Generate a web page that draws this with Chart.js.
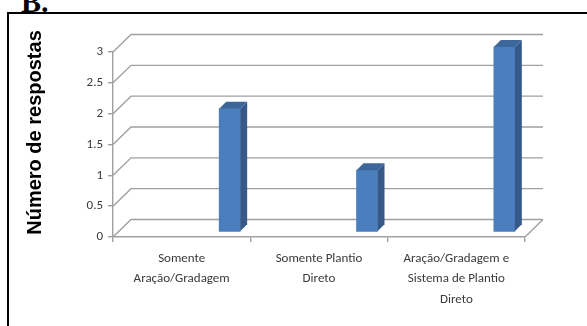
<!DOCTYPE html>
<html lang="pt">
<head>
<meta charset="utf-8">
<script src="https://cdn.jsdelivr.net/npm/chart.js@4"></script>
<style>
    html, body { margin: 0; padding: 0; background: #fff; overflow: hidden; }
    #wrap { position: relative; width: 587px; height: 326px; overflow: hidden; }
    #panelLabel { position: absolute; left: 21px; top: -13px; font: bold 30px/30px "Liberation Serif", "Times New Roman", serif; color: #000; }
    #frame { position: absolute; left: 7px; top: 12px; width: 640px; height: 400px; border: 2px solid #000; }
    #respostasChart { position: absolute; left: 0; top: 0; }
</style>
</head>
<body>
<div id="wrap">
    <div id="panelLabel">B.</div>
    <div id="frame"></div>
    <canvas id="respostasChart" width="587" height="326"></canvas>
</div>
<script>
const categories = [
    ['Somente', 'Aração/Gradagem'],
    ['Somente Plantio', 'Direto'],
    ['Aração/Gradagem e', 'Sistema de Plantio', 'Direto']
];
const respostas = [2, 1, 3];
const yTicks = [0, 0.5, 1, 1.5, 2, 2.5, 3];

const GRID_COLOR = '#a0a0a0';
const TEXT_COLOR = '#3a3a3a';
const LABEL_FONT = '"Liberation Sans Narrow", Carlito, "Liberation Sans", sans-serif';
const BAR_FRONT = '#4b7ebd';
const BAR_SIDE = '#36598a';
const BAR_TOP = '#3d669b';

//  depth of the box (back wall offset) and of each bar
const DEPTH_X = 18;
const DEPTH_Y = 17.5;
const BAR_DEPTH = 7;
//  bars stand inside the box, towards the back right of each slot
const BAR_SHIFT_X = 48;
const BAR_SHIFT_Y = -5;

const respostasChartElement = document.getElementById('respostasChart');

//  Back wall, floor and the 3D faces of the bars
const boxPlugin = {
    id: 'box3d',
    beforeDatasetsDraw(chart) {
        const { ctx, chartArea, scales: { y } } = chart;
        ctx.save();
        ctx.strokeStyle = GRID_COLOR;
        ctx.lineWidth = 1.4;
        yTicks.forEach(v => {
            const py = y.getPixelForValue(v);
            ctx.beginPath();
            ctx.moveTo(chartArea.left, py);
            ctx.lineTo(chartArea.left + DEPTH_X, py - DEPTH_Y);
            ctx.lineTo(chartArea.right + DEPTH_X, py - DEPTH_Y);
            ctx.stroke();
        });
        const floor = y.getPixelForValue(0);
        ctx.beginPath();
        ctx.moveTo(chartArea.right, floor);
        ctx.lineTo(chartArea.right + DEPTH_X, floor - DEPTH_Y);
        ctx.stroke();
        ctx.restore();

        ctx.save();
        ctx.translate(BAR_SHIFT_X, BAR_SHIFT_Y);
    },
    afterDatasetsDraw(chart) {
        const { ctx } = chart;
        chart.getDatasetMeta(0).data.forEach(bar => {
            const { x, y, base, width } = bar.getProps(['x', 'y', 'base', 'width'], true);
            const left = x - width / 2;
            const right = x + width / 2;

            //  side face
            ctx.fillStyle = BAR_SIDE;
            ctx.beginPath();
            ctx.moveTo(right, y);
            ctx.lineTo(right + BAR_DEPTH, y - BAR_DEPTH);
            ctx.lineTo(right + BAR_DEPTH, base - BAR_DEPTH);
            ctx.lineTo(right, base);
            ctx.closePath();
            ctx.fill();

            //  top face
            ctx.fillStyle = BAR_TOP;
            ctx.beginPath();
            ctx.moveTo(left, y);
            ctx.lineTo(left + BAR_DEPTH, y - BAR_DEPTH);
            ctx.lineTo(right + BAR_DEPTH, y - BAR_DEPTH);
            ctx.lineTo(right, y);
            ctx.closePath();
            ctx.fill();
        });
        ctx.restore();
    },
    afterDraw(chart) {
        //  Axis title, centred on the whole box height
        const { ctx } = chart;
        ctx.save();
        ctx.translate(35, 132.5);
        ctx.rotate(-Math.PI / 2);
        ctx.fillStyle = '#000';
        ctx.font = 'bold 20px "Liberation Sans", Arial, sans-serif';
        ctx.textAlign = 'center';
        ctx.textBaseline = 'middle';
        ctx.fillText('Número de respostas', 0, 0);
        ctx.restore();
    }
};

new Chart(respostasChartElement, {
    type: 'bar',
    data: {
        labels: categories,
        datasets: [{
            label: 'Número de respostas',
            data: respostas,
            backgroundColor: BAR_FRONT,
            borderWidth: 0,
            barThickness: 21,
            clip: false
        }]
    },
    options: {
        responsive: false,
        animation: false,
        layout: {
            padding: { top: 52, right: 62, bottom: 0, left: 0 }
        },
        plugins: {
            legend: { display: false },
            tooltip: { enabled: false }
        },
        scales: {
            x: {
                grid: {
                    offset: true,
                    drawOnChartArea: false,
                    tickLength: 5,
                    color: GRID_COLOR,
                    lineWidth: 1.4
                },
                border: { display: true, color: GRID_COLOR, width: 1.4 },
                ticks: {
                    maxRotation: 0,
                    autoSkip: false,
                    padding: 6,
                    color: TEXT_COLOR,
                    font: { family: LABEL_FONT, size: 13, lineHeight: 1.6 }
                },
                afterFit: scale => { scale.height = 89; }
            },
            y: {
                min: 0,
                max: 3,
                afterBuildTicks: scale => {
                    scale.ticks = yTicks.map(value => ({ value }));
                },
                grid: {
                    drawOnChartArea: false,
                    tickLength: 5,
                    color: GRID_COLOR,
                    lineWidth: 1.4
                },
                border: { display: true, color: GRID_COLOR, width: 1.4 },
                ticks: {
                    padding: 5,
                    color: TEXT_COLOR,
                    font: { family: LABEL_FONT, size: 13 },
                    callback: value => String(value)
                },
                afterFit: scale => { scale.width = 113; }
            }
        }
    },
    plugins: [boxPlugin]
});
</script>
</body>
</html>
